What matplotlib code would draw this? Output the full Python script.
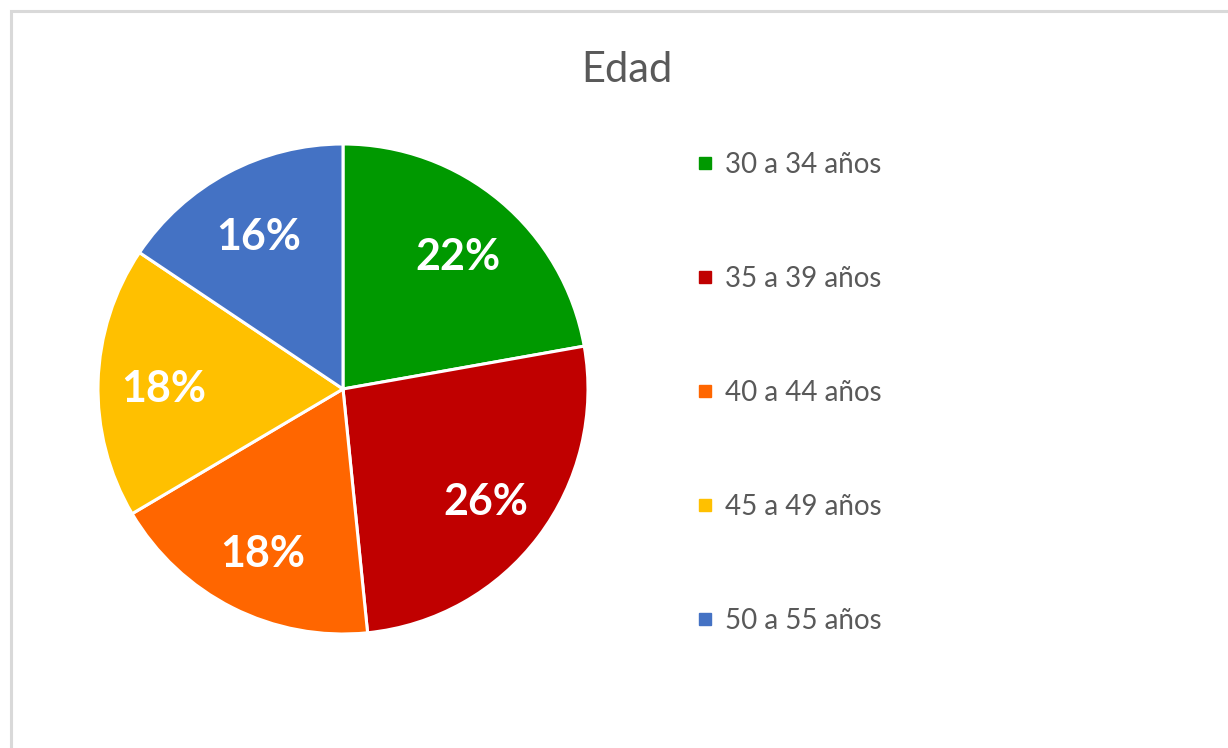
import matplotlib.pyplot as plt
from matplotlib.lines import Line2D
from matplotlib.patches import Rectangle

categories = ['30 a 34 años', '35 a 39 años', '40 a 44 años', '45 a 49 años', '50 a 55 años']
values = [22.2, 26.2, 18.1, 17.9, 15.6]
colors = ['#009900', '#C00000', '#FF6600', '#FFC000', '#4472C4']

plt.rcParams['font.family'] = ['Lato', 'DejaVu Sans']

W, H = 1228, 748
fig = plt.figure(figsize=(W / 100, H / 100), dpi=100)

# light gray frame (only top and left visible in the reference)
fig.patches.append(Rectangle((10.5 / W, -0.1), 1.2, 1.1 - 11.5 / H, transform=fig.transFigure,
                             fill=False, edgecolor='#D9D9D9', linewidth=2.2))

# pie axes: center (343, 389) px, radius 245 px
cx, cy, r = 343, 389, 245
ax = fig.add_axes([(cx - r) / W, (H - cy - r) / H, 2 * r / W, 2 * r / H])
wedges, texts, autotexts = ax.pie(values, colors=colors, startangle=90, counterclock=False,
                                  autopct='%1.0f%%', pctdistance=0.73,
                                  wedgeprops=dict(edgecolor='white', linewidth=2.2),
                                  textprops=dict(color='white', fontsize=31, fontweight='bold'))
# nudge the percent labels down a little, like Excel's placement
for t in autotexts:
    x, y = t.get_position()
    t.set_position((x, y - 0.022))
ax.set_xlim(-1, 1)
ax.set_ylim(-1, 1)
ax.set_aspect('equal')

fig.text(627 / W, 1 - 70 / H, 'Edad', ha='center', va='center', fontsize=30, color='#595959')

handles = [Line2D([], [], marker='s', linestyle='', markersize=9, markerfacecolor=c, markeredgecolor=c)
           for c in colors]
fig.legend(handles, categories, loc='upper left', bbox_to_anchor=(683 / W, 1 - 138 / H),
           frameon=False, fontsize=20, labelcolor='#595959', labelspacing=3.17,
           handlelength=0.6, handletextpad=0.4, borderpad=0)

fig.savefig('out.png', dpi=100)
